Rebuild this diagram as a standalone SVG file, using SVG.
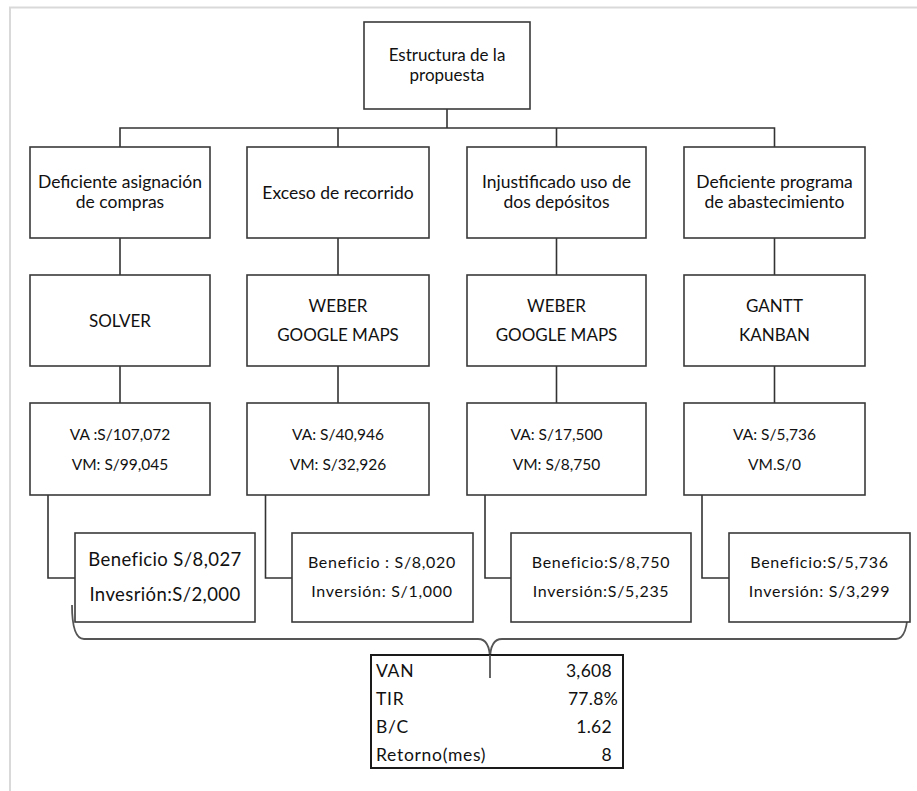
<svg xmlns="http://www.w3.org/2000/svg" width="917" height="791" viewBox="0 0 917 791">
  <style>
    .box { fill: #ffffff; stroke: #3a3a3a; stroke-width: 1.6; }
    .tbl { fill: #ffffff; stroke: #1a1a1a; stroke-width: 2; }
    .wire { fill: none; stroke: #333333; stroke-width: 1.6; }
    .brace { fill: none; stroke: #555555; stroke-width: 1.8; }
    text { font-family: Lato, "Open Sans", "Liberation Sans", sans-serif; fill: #111111; text-anchor: middle; }
    .top { font-size: 17px; }
    .prob { font-size: 17.5px; }
    .tool { font-size: 17px; }
    .val { font-size: 15.5px; }
    .big { font-size: 18.5px; letter-spacing: 0.4px; }
    .ben { font-size: 16px; letter-spacing: 0.7px; }
    .tl { font-size: 17.5px; letter-spacing: 0.7px; text-anchor: start; }
    .tr { font-size: 17.5px; letter-spacing: 0.3px; text-anchor: end; }
  </style>

  <rect width="917" height="791" fill="#ffffff"/>
  <!-- page frame -->
  <path d="M10,791 V7.5 H917" fill="none" stroke="#d9d9d9" stroke-width="2"/>

  <!-- connectors -->
  <g id="connectors">
    <path class="wire" d="M447,109 V128 M120,147 V128 H774.5 V147 M338,128 V147 M556.5,128 V147"/>
    <path class="wire" d="M120,238 V275 M338,238 V275 M556.5,238 V275 M774.5,238 V275"/>
    <path class="wire" d="M120,366 V403 M338,366 V403 M556.5,366 V403 M774.5,366 V403"/>
    <path class="wire" d="M48,495 V578 H75 M265.5,495 V578 H292 M485,495 V578 H511 M702,495 V578 H729"/>
    <path class="brace" d="M72,605 Q72,639 84,639 H478 Q490,639 490,660 V678 M490,660 Q490,639 502,639 H896 Q908,639 908,605"/>
  </g>

  <g id="root">
    <rect class="box" x="364" y="22" width="166" height="87"/>
    <text class="top" x="447" y="61">Estructura de la</text>
    <text class="top" x="447" y="81">propuesta</text>
  </g>

  <!-- problems -->
  <g id="p1">
    <rect class="box" x="30" y="147" width="180" height="91"/>
    <text class="prob" x="120" y="188">Deficiente asignación</text>
    <text class="prob" x="120" y="208">de compras</text>
  </g>
  <g id="p2">
    <rect class="box" x="247" y="147" width="182" height="91"/>
    <text class="prob" x="338" y="199">Exceso de recorrido</text>
  </g>
  <g id="p3">
    <rect class="box" x="467" y="147" width="179" height="91"/>
    <text class="prob" x="556.5" y="188">Injustificado uso de</text>
    <text class="prob" x="556.5" y="208">dos depósitos</text>
  </g>
  <g id="p4">
    <rect class="box" x="684" y="147" width="181" height="91"/>
    <text class="prob" x="774.5" y="188">Deficiente programa</text>
    <text class="prob" x="774.5" y="208">de abastecimiento</text>
  </g>

  <!-- tools -->
  <g id="m1">
    <rect class="box" x="30" y="275" width="180" height="91"/>
    <text class="tool" x="120" y="327">SOLVER</text>
  </g>
  <g id="m2">
    <rect class="box" x="247" y="275" width="182" height="91"/>
    <text class="tool" x="338" y="312">WEBER</text>
    <text class="tool" x="338" y="341">GOOGLE MAPS</text>
  </g>
  <g id="m3">
    <rect class="box" x="467" y="275" width="179" height="91"/>
    <text class="tool" x="556.5" y="312">WEBER</text>
    <text class="tool" x="556.5" y="341">GOOGLE MAPS</text>
  </g>
  <g id="m4">
    <rect class="box" x="684" y="275" width="181" height="91"/>
    <text class="tool" x="774.5" y="312">GANTT</text>
    <text class="tool" x="774.5" y="341">KANBAN</text>
  </g>

  <!-- values -->
  <g id="v1">
    <rect class="box" x="30" y="403" width="180" height="92"/>
    <text class="val" x="120" y="440">VA :S/107,072</text>
    <text class="val" x="120" y="470">VM: S/99,045</text>
  </g>
  <g id="v2">
    <rect class="box" x="247" y="403" width="182" height="92"/>
    <text class="val" x="338" y="440">VA: S/40,946</text>
    <text class="val" x="338" y="470">VM: S/32,926</text>
  </g>
  <g id="v3">
    <rect class="box" x="467" y="403" width="179" height="92"/>
    <text class="val" x="556.5" y="440">VA: S/17,500</text>
    <text class="val" x="556.5" y="470">VM: S/8,750</text>
  </g>
  <g id="v4">
    <rect class="box" x="684" y="403" width="181" height="92"/>
    <text class="val" x="774.5" y="440">VA: S/5,736</text>
    <text class="val" x="774.5" y="470">VM.S/0</text>
  </g>

  <!-- benefit / investment -->
  <g id="b1">
    <rect class="box" x="75" y="533" width="180" height="89"/>
    <text class="big" x="165" y="566">Beneficio S/8,027</text>
    <text class="big" x="165" y="601">Invesrión:S/2,000</text>
  </g>
  <g id="b2">
    <rect class="box" x="292" y="533" width="181" height="89"/>
    <text class="ben" x="382" y="568">Beneficio : S/8,020</text>
    <text class="ben" x="382" y="597">Inversión: S/1,000</text>
  </g>
  <g id="b3">
    <rect class="box" x="511" y="533" width="180" height="89"/>
    <text class="ben" x="601" y="568">Beneficio:S/8,750</text>
    <text class="ben" x="601" y="597">Inversión:S/5,235</text>
  </g>
  <g id="b4">
    <rect class="box" x="729" y="533" width="181" height="89"/>
    <text class="ben" x="819.5" y="568">Beneficio:S/5,736</text>
    <text class="ben" x="819.5" y="597">Inversión: S/3,299</text>
  </g>

  <!-- summary indicators -->
  <g id="summary">
    <rect class="tbl" x="371" y="655" width="252" height="113"/>
    <path class="brace" d="M490,655 V678"/>
    <text class="tl" x="376" y="677">VAN</text>
    <text class="tl" x="376" y="705">TIR</text>
    <text class="tl" x="376" y="733">B/C</text>
    <text class="tl" x="376" y="761">Retorno(mes)</text>
    <text class="tr" x="612" y="677">3,608</text>
    <text class="tr" x="618" y="705">77.8%</text>
    <text class="tr" x="612" y="733">1.62</text>
    <text class="tr" x="612" y="761">8</text>
  </g>
</svg>
